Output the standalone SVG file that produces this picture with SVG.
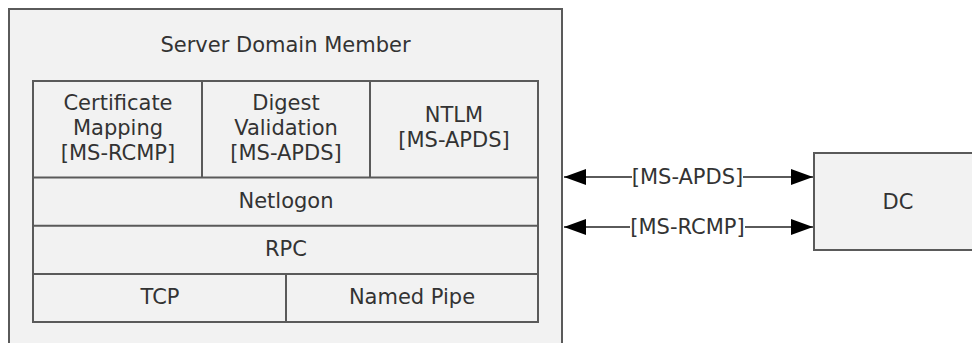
<svg xmlns="http://www.w3.org/2000/svg" width="972" height="343" viewBox="0 0 972 343">
<defs>
<style>
.box{fill:#f2f2f2;stroke:#5a5a5a;stroke-width:2}
.ln{fill:none;stroke:#5a5a5a;stroke-width:2}
.t{font-family:"DejaVu Sans","Liberation Sans",sans-serif;font-size:21px;fill:#333333;text-anchor:middle}
.conn{fill:none;stroke:#5a5a5a;stroke-width:2}
</style>
<marker id="ah" viewBox="0 0 22 16" refX="22" refY="8" markerWidth="22" markerHeight="16" markerUnits="userSpaceOnUse" orient="auto-start-reverse">
<path d="M0,0 L22,8 L0,16 Z" fill="#000"/>
</marker>
</defs>
<rect width="972" height="343" fill="#ffffff"/>
<g id="server">
<rect class="box" x="9" y="9" width="553" height="350"/>
<text class="t" x="285.5" y="52">Server Domain Member</text>
</g>
<g id="stack">
<rect class="box" x="33" y="81" width="505" height="241"/>
<path class="ln" d="M33,177.5H538M33,225.75H538M33,274H538M202,81V177.5M370,81V177.5M286,274V322"/>
</g>
<g id="cert">
<text class="t" x="118" y="110">Certificate</text>
<text class="t" x="118" y="135">Mapping</text>
<text class="t" x="118" y="160">[MS-RCMP]</text>
</g>
<g id="digest">
<text class="t" x="286" y="110">Digest</text>
<text class="t" x="286" y="135">Validation</text>
<text class="t" x="286" y="160">[MS-APDS]</text>
</g>
<g id="ntlm">
<text class="t" x="454" y="122">NTLM</text>
<text class="t" x="454" y="147">[MS-APDS]</text>
</g>
<g id="netlogon"><text class="t" x="286" y="208">Netlogon</text></g>
<g id="rpc"><text class="t" x="286" y="256">RPC</text></g>
<g id="tcp"><text class="t" x="160" y="304">TCP</text></g>
<g id="namedpipe"><text class="t" x="412" y="304">Named Pipe</text></g>
<g id="dc">
<rect class="box" x="814" y="153" width="200" height="97"/>
<text class="t" x="898" y="209">DC</text>
</g>
<g id="connectors">
<path class="conn" d="M564,177H632" marker-start="url(#ah)"/>
<path class="conn" d="M743,177H813" marker-end="url(#ah)"/>
<path class="conn" d="M564,227H630" marker-start="url(#ah)"/>
<path class="conn" d="M745,227H813" marker-end="url(#ah)"/>
<text class="t" x="687.5" y="184">[MS-APDS]</text>
<text class="t" x="687.5" y="234">[MS-RCMP]</text>
</g>
</svg>
